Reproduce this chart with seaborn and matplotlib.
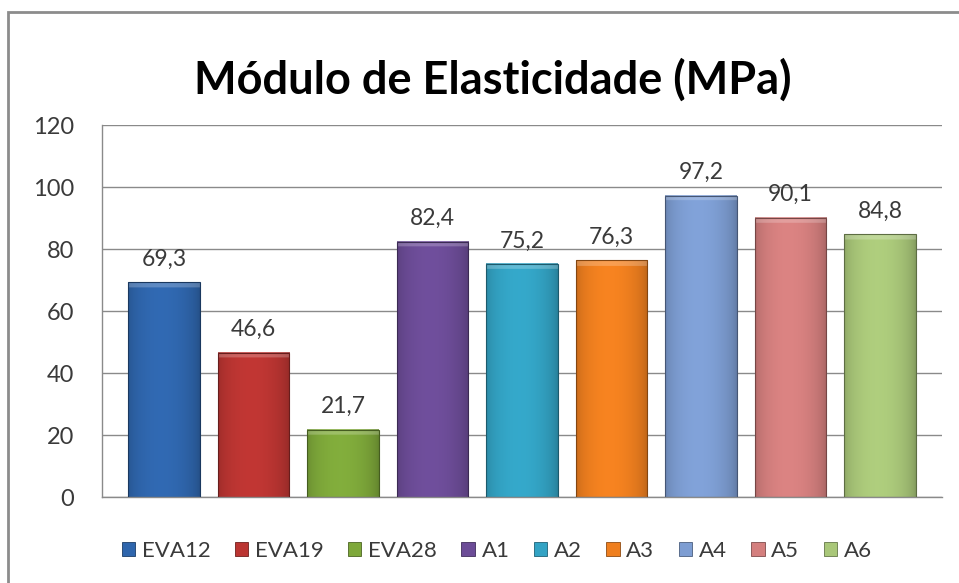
import numpy as np
import pandas as pd
import seaborn as sns
import matplotlib.pyplot as plt
from matplotlib.patches import Patch, Rectangle
from matplotlib.colors import to_rgb

# Chart data
samples = ['EVA12', 'EVA19', 'EVA28', 'A1', 'A2', 'A3', 'A4', 'A5', 'A6']
modulus = [69.3, 46.6, 21.7, 82.4, 75.2, 76.3, 97.2, 90.1, 84.8]
colors = ['#2f66ad', '#bb3532', '#7ea83a', '#6c4c97', '#33a3c4',
          '#ef7f1f', '#7d9dd2', '#d47f7e', '#a9c779']
y_ticks = [0, 20, 40, 60, 80, 100, 120]

TEXT = '#3a3a3a'
GRID = '#8a8a8a'


def shade_image(rgb, h, nrow=240, ncol=60):
    """Bevelled look: darker side edges, lighter top band."""
    t = (np.arange(ncol) + 0.5) / ncol
    prof = 0.80 + 0.26 * np.sin(np.pi * t) ** 0.5 - 0.05 * t
    img = np.ones((nrow, ncol, 3)) * np.array(rgb)
    img = img * prof[None, :, None]
    depth = (np.arange(nrow) + 0.5) / nrow * h
    band = depth < 1.8
    img[band] = img[band] * 0.78 + 0.22
    return np.clip(img, 0, 1)


def main():
    df = pd.DataFrame({'amostra': samples, 'modulo': modulus})

    sns.set_style('white')
    plt.rcParams['font.family'] = ['Lato', 'DejaVu Sans']

    fig = plt.figure(figsize=(9.59, 5.83), dpi=100)
    ax = fig.add_axes([102 / 959, 1 - 497 / 583, 840 / 959, 372 / 583])

    sns.barplot(data=df, x='amostra', y='modulo', hue='amostra',
                palette=colors, width=0.8, legend=False, ax=ax,
                saturation=1)

    for cont in ax.containers:
        for bar in cont:
            rgb = to_rgb(bar.get_facecolor())
            x0, w, h = bar.get_x(), bar.get_width(), bar.get_height()
            ax.imshow(shade_image(rgb, h), extent=[x0, x0 + w, 0, h],
                      aspect='auto', zorder=2, interpolation='bilinear')
            bar.set_facecolor('none')
            bar.set_edgecolor(tuple(c * 0.55 for c in rgb))
            bar.set_linewidth(0.8)
            bar.set_zorder(3)
        lbl = [f'{v:.1f}'.replace('.', ',') for v in cont.datavalues]
        ax.bar_label(cont, labels=lbl, padding=9, fontsize=16.5, color=TEXT)

    ax.set_xlim(-0.693, 8.693)
    ax.set_ylim(0, 120)
    ax.set_yticks(y_ticks)
    ax.set_xticks([])
    ax.set_xlabel('')
    ax.set_ylabel('')
    ax.tick_params(axis='y', labelsize=17, colors=TEXT, length=0, pad=20)
    ax.yaxis.grid(True, color=GRID, linewidth=1)
    ax.set_axisbelow(True)
    for side in ['top', 'right']:
        ax.spines[side].set_visible(False)
    for side in ['left', 'bottom']:
        ax.spines[side].set_color(GRID)
        ax.spines[side].set_linewidth(1)

    fig.text(0.514, 0.862, 'Módulo de Elasticidade (MPa)', ha='center',
             va='center', fontsize=32.5, fontweight='bold', color='black')

    handles = [Patch(facecolor=c, edgecolor=tuple(v * 0.6 for v in to_rgb(c)),
                     linewidth=0.6) for c in colors]
    fig.legend(handles, samples, loc='center', bbox_to_anchor=(0.518, 0.055),
               ncol=9, frameon=False, fontsize=16, labelcolor=TEXT,
               handlelength=0.6, handleheight=0.6, handletextpad=0.3,
               columnspacing=1.1)

    # outer chart border (only top and left edges fall inside the image)
    fig.patches.append(Rectangle((8 / 959, -0.1), 1.2, 1 - 12 / 583 + 0.1,
                                 transform=fig.transFigure, fill=False,
                                 edgecolor='#8c8c8c', linewidth=2))

    fig.savefig('out.png', dpi=100, facecolor='white')


if __name__ == '__main__':
    main()
